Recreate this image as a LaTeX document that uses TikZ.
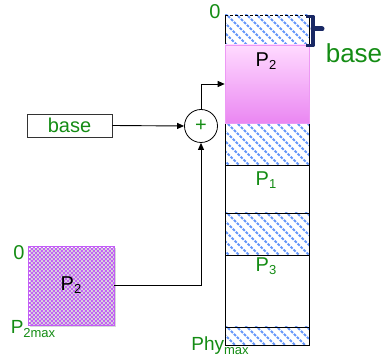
\documentclass[tikz,border=0pt]{standalone}
\usepackage{fontspec}
\setmainfont{Liberation Sans}
\usetikzlibrary{arrows.meta,patterns}
\definecolor{grn}{RGB}{20,140,20}
\definecolor{hatchblue}{RGB}{100,150,250}
\definecolor{purp}{RGB}{195,95,245}
\definecolor{pinktop}{RGB}{255,218,255}
\definecolor{pinkbot}{RGB}{234,135,242}
\definecolor{navy}{RGB}{25,40,100}
\pgfdeclarepatternformonly{finecheck}{\pgfpointorigin}{\pgfpoint{4pt}{4pt}}{\pgfpoint{4pt}{4pt}}{%
  \pgfpathrectangle{\pgfpointorigin}{\pgfpoint{2pt}{2pt}}%
  \pgfpathrectangle{\pgfpoint{2pt}{2pt}}{\pgfpoint{2pt}{2pt}}%
  \pgfusepath{fill}}
\newcommand\subtxt[3]{#1\raisebox{-0.17em}{\fontsize{#3}{#3}\selectfont #2}}
\newcommand\hatchrect[2]{%
  \begin{scope}
    \clip (225,#1) rectangle (309,#2);
    \foreach \i in {-60,-50,...,90}
      \draw[hatchblue, line width=2.1pt, dash pattern=on 2.8pt off 1.4pt] (225+\i,#1-2) -- ++(120,120);
  \end{scope}}
\begin{document}
\begin{tikzpicture}[x=1pt,y=-1pt,
  lbl/.style={text=grn, inner sep=0, font=\fontsize{19}{19}\selectfont},
  conn/.style={draw=black, line width=0.9pt, -{Triangle[length=7pt,width=6pt]}},
  memline/.style={draw=black, line width=0.9pt},
]
\useasboundingbox (0,0) rectangle (384,358);

% hatched free regions
\hatchrect{15}{45}
\hatchrect{123}{165}
\hatchrect{213}{255}
\hatchrect{327}{345}

% memory column outline
\draw[memline] (225,15) -- (225,345) -- (309,345) -- (309,15);
\draw[memline, dash pattern=on 3pt off 2pt] (225,15) -- (309,15);
\draw[memline, dash pattern=on 3pt off 2pt] (225,45) -- (309,45);
\draw[memline] (225,165) -- (309,165);
\draw[memline] (225,213) -- (309,213);
\draw[memline] (225,255) -- (309,255);
\draw[memline] (225,327) -- (309,327);

% P2 in memory
\node[minimum width=84pt, minimum height=78pt, inner sep=0, top color=pinktop, bottom color=pinkbot, draw=pinkbot!85!white, line width=0.6pt] (pmem) at (267,84) {};
\node[inner sep=0, font=\fontsize{20}{20}\selectfont] (pmemlbl) at (266,61) {\subtxt{P}{2}{13}};

% bracket
\draw[navy, line width=3.8pt, line join=round] (306,16.5) -- (313,16.5) -- (313,45.5) -- (306,45.5);
\draw[navy, line width=5pt, line cap=round] (313,29) -- (322,29);

% labels on memory
\node[lbl, font=\fontsize{20}{20}\selectfont] (zerotop) at (215,12) {0};
\node[text=grn, inner sep=0, font=\fontsize{26}{26}\selectfont] (baselbl) at (354,53) {base};
\node[lbl, font=\fontsize{20}{20}\selectfont] (pone) at (266,180) {\subtxt{P}{1}{13}};
\node[lbl, font=\fontsize{20}{20}\selectfont] (pthree) at (266,266) {\subtxt{P}{3}{13}};
\node[lbl] (phymax) at (220,346) {\subtxt{Phy}{max}{13}};

% base register
\node[draw=black!80, line width=0.8pt, minimum width=85pt, minimum height=23pt, inner sep=0, text=grn, font=\fontsize{20}{20}\selectfont] (basebox) at (69.5,125.5) {base};

% adder
\node[circle, draw, line width=0.8pt, minimum size=33pt, inner sep=0, text=grn, font=\fontsize{20}{20}\selectfont] (plus) at (201,126) {+};

% process P2
\fill[black!15] (30,248) rectangle (116,327.5);
\node[draw=purp, line width=0.6pt, fill=white, pattern=finecheck, pattern color=purp, minimum width=86pt, minimum height=79pt, inner sep=0] (ptwo) at (71,285.5) {};
\node[inner sep=0, font=\fontsize{20}{20}\selectfont] (ptwolbl) at (71,285) {\subtxt{P}{2}{13}};
\node[lbl, font=\fontsize{20}{20}\selectfont] (zerolow) at (19,253) {0};
\node[lbl] (ptwomax) at (33,329) {\subtxt{P}{2max}{13}};

% connectors
\draw[conn] (basebox.east) -- (plus.west);
\draw[conn] (ptwo.east) -| (plus.south);
\draw[conn] (plus.north) |- (pmem.west);
\end{tikzpicture}
\end{document}
